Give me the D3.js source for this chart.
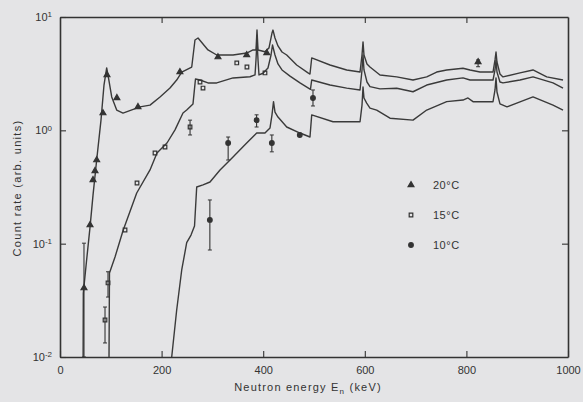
<!DOCTYPE html>
<html><head><meta charset="utf-8">
<script src="https://cdn.jsdelivr.net/npm/d3@7"></script>
<style>body{margin:0;background:#e4e4e6}svg{display:block}</style>
</head><body><svg id="c" width="583" height="402"></svg>
<script>
// ---- data ----
const curve20E = [45.5,45.9,52.2,59.1,65.0,72.2,80.7,86.6,91.9,95.1,101.8,111.6,124,157.5,177.2,196.9,216.5,229.7,239.6,259.3,265.7,271.7,291.3,308.5,340.6,367.5,379.9,385.8,387.8,389.8,403.5,411.4,417.3,419.3,423.2,429.1,437,446.3,465.9,488.2,492.1,495.5,531.5,564.4,590.6,594.5,596.5,598.4,604.3,610.2,629.9,662.8,694.9,721.9,741.5,761.2,793.3,807.1,826.8,852.4,856.3,858.3,860.2,866.1,872,905.5,931.1,958.1,990.2];
const curve20V = [0.01,0.0367,0.0703,0.140,0.268,0.547,1.23,2.51,3.55,2.96,1.97,1.51,1.42,1.61,1.67,1.97,2.36,2.78,3.27,3.62,6.27,6.53,5.12,4.62,4.62,4.81,5.12,5.12,7.67,5.12,4.94,5.34,7.22,7.67,6.53,5.55,4.91,4.62,3.77,3.21,3.14,4.35,3.77,3.41,3.27,4.62,6.03,4.62,3.85,3.62,3.08,2.96,2.78,2.96,3.27,3.41,3.53,3.41,3.27,3.27,4.18,4.91,4.01,3.14,2.96,3.21,3.41,2.96,2.78];

const curve15E = [96.5,97.4,108.3,124,151,177.2,190.9,210.6,226.4,242.1,249.4,261.8,266.7,275.6,291.3,308.5,340.6,374,383.9,385.8,387.8,389.8,391.7,399.6,409.4,415.4,418.3,423.2,429.1,437,452.8,472.4,493,495.5,531.5,564.4,590.6,594.5,596.5,598.4,604.3,610.2,629.9,662.8,694.9,721.9,761.2,793.3,807.1,852.4,856.3,858.3,860.2,866.1,872,905.5,931.1,970.5,990.2];
const curve15V = [0.01,0.0551,0.0762,0.130,0.280,0.447,0.631,0.773,1.01,1.42,1.51,1.71,2.84,2.78,2.62,2.62,2.90,2.97,3.08,4.18,6.27,4.18,3.08,3.19,3.55,4.62,5.66,4.62,3.85,3.41,3.01,2.62,2.30,2.78,2.51,2.36,2.27,3.41,4.62,3.41,2.67,2.43,2.32,2.35,2.19,2.51,2.78,2.90,2.78,2.78,3.41,4.18,3.27,2.67,2.62,2.78,2.96,2.62,2.36];

const curve10E = [219.9,229.7,239.6,249.4,257.9,264.8,269.1,281.5,295.3,315,340.6,367.5,387.2,403.5,413.4,417.3,420.3,423.2,429.1,446.3,472.4,492.1,495.5,537.4,590.6,594.5,596.5,598.4,603.7,610.2,623.4,649.6,694.9,721.9,761.2,793.3,803.1,813,852.4,856.3,858.3,860.2,866.1,879.9,905.5,931.1,970.5,990.2];
const curve10V = [0.01,0.0260,0.0586,0.102,0.119,0.143,0.316,0.330,0.350,0.447,0.582,0.773,0.947,0.947,1.05,1.37,1.79,1.45,1.31,1.07,0.947,0.873,1.37,1.19,1.19,1.67,2.41,1.93,1.74,1.57,1.51,1.28,1.23,1.51,1.79,1.85,1.93,1.79,1.79,2.27,2.90,2.18,1.71,1.61,1.78,1.97,1.67,1.51];

const pts20E  = [47.2,59.1,65.0,68.9,72.2,84.6,92.5,112,153.5,236,311,367.5,407,823];
const pts20V  = [0.0406,0.146,0.365,0.438,0.547,1.42,3.08,1.93,1.61,3.27,4.43,4.62,4.81,4.01];
const pts20Lo = [0.01,null,null,null,null,null,null,null,null,null,null,null,null,3.64];
const pts20Hi = [0.101,null,null,null,null,null,null,null,null,null,null,null,null,4.18];

const pts15E  = [88.6,94.5,128,151.6,187,206.7,256,275.6,281.5,348,368,403.5];
const pts15V  = [0.0212,0.045,0.132,0.343,0.631,0.713,1.07,2.67,2.36,3.93,3.62,3.21];
const pts15Lo = [0.0133,0.0338,null,null,null,null,0.91,null,null,null,null,null];
const pts15Hi = [0.0276,0.0565,null,null,null,null,1.23,null,null,null,null,null];

const pts10E  = [295,331,387,417,472,498];
const pts10V  = [0.162,0.773,1.23,0.773,0.91,1.93];
const pts10Lo = [0.0879,0.547,1.07,0.646,null,1.64];
const pts10Hi = [0.243,0.873,1.37,0.91,null,2.27];

const xTicks = [0,200,400,600,800,1000];
const yTicks = [0.01,0.1,1,10];
const legendLabels = ["20°C","15°C","10°C"];

// ---- drawing ----
const ink = "#333";
const svg = d3.select("#c");
svg.append("rect").attr("width",583).attr("height",402).attr("fill","#e4e4e6");
const x = d3.scaleLinear().domain([0,1000]).range([60,568]);
const y = d3.scaleLog().domain([0.01,10]).range([357,17]);

const font = "Liberation Sans, Arial, sans-serif";

// frame axes
const gB = svg.append("g").attr("transform","translate(0,357)")
  .call(d3.axisBottom(x).tickValues(xTicks).tickSizeInner(-6).tickSizeOuter(0).tickPadding(9).tickFormat(d3.format("d")));
const gT = svg.append("g").attr("transform","translate(0,17)")
  .call(d3.axisTop(x).tickValues([200,400,600,800]).tickSizeInner(-6).tickSizeOuter(0).tickFormat(""));
const gL = svg.append("g").attr("transform","translate(60,0)")
  .call(d3.axisLeft(y).tickValues(yTicks).tickSizeInner(-6).tickSizeOuter(0).tickPadding(8).tickFormat(d=>"10"));
const gR = svg.append("g").attr("transform","translate(568,0)")
  .call(d3.axisRight(y).tickValues([0.1,1]).tickSizeInner(-6).tickSizeOuter(0).tickFormat(""));
[gB,gT,gL,gR].forEach(g=>{
  g.select(".domain").attr("stroke",ink).attr("stroke-width",1.6);
  g.selectAll(".tick line").attr("stroke",ink).attr("stroke-width",1.1);
  g.selectAll("text").attr("fill",ink).attr("font-family",font).attr("font-size",11);
});
gL.selectAll(".tick text").each(function(d){
  const e = Math.round(Math.log10(d));
  d3.select(this).append("tspan").attr("dy","-0.45em").attr("font-size",8)
    .text(e<0 ? "-"+(-e) : String(e));
});

// curves
const line = d3.line().x(d=>x(d[0])).y(d=>y(d[1]));
[[curve20E,curve20V],[curve15E,curve15V],[curve10E,curve10V]].forEach(([E,V])=>{
  svg.append("path").datum(E.map((e,i)=>[e,V[i]]))
    .attr("d",line).attr("fill","none").attr("stroke","#3a3a3a").attr("stroke-width",1.4)
    .attr("stroke-linejoin","round");
});

// markers
const series = [
  {E:pts20E,V:pts20V,Lo:pts20Lo,Hi:pts20Hi,sym:d3.symbolTriangle,size:15,fill:ink},
  {E:pts15E,V:pts15V,Lo:pts15Lo,Hi:pts15Hi,sym:d3.symbolSquare,size:13,fill:"none"},
  {E:pts10E,V:pts10V,Lo:pts10Lo,Hi:pts10Hi,sym:d3.symbolCircle,size:17,fill:ink}
];
series.forEach(s=>{
  const g = svg.append("g");
  s.E.forEach((e,i)=>{
    if(s.Lo[i]!=null){
      g.append("line").attr("x1",x(e)).attr("x2",x(e)).attr("y1",y(s.Lo[i])).attr("y2",y(s.Hi[i]))
        .attr("stroke",ink).attr("stroke-width",1.1);
      [s.Lo[i],s.Hi[i]].forEach(v=>g.append("line").attr("x1",x(e)-2).attr("x2",x(e)+2)
        .attr("y1",y(v)).attr("y2",y(v)).attr("stroke",ink).attr("stroke-width",1));
    }
    g.append("path").attr("d",d3.symbol().type(s.sym).size(s.size)())
      .attr("transform",`translate(${x(e)},${y(s.V[i])})`)
      .attr("fill",s.fill).attr("stroke",ink).attr("stroke-width",1.2);
  });
});

// legend
const leg = svg.append("g");
series.forEach((s,i)=>{
  const cy = 185 + i*30;
  leg.append("path").attr("d",d3.symbol().type(s.sym).size(s.size)())
    .attr("transform",`translate(411,${cy})`).attr("fill",s.fill).attr("stroke",ink).attr("stroke-width",1.2);
  leg.append("text").attr("x",433).attr("y",cy+4).attr("fill",ink)
    .attr("font-family",font).attr("font-size",11).attr("letter-spacing",0.5).text(legendLabels[i]);
});

// axis titles
svg.append("text").attr("transform","translate(21,188) rotate(-90)").attr("text-anchor","middle")
  .attr("fill",ink).attr("font-family",font).attr("font-size",11).attr("letter-spacing",1.3)
  .text("Count rate (arb. units)");
const xt = svg.append("text").attr("x",308).attr("y",391).attr("text-anchor","middle")
  .attr("fill",ink).attr("font-family",font).attr("font-size",11).attr("letter-spacing",1.2);
xt.append("tspan").text("Neutron energy  E");
xt.append("tspan").attr("font-size",8).attr("dy",3).text("n");
xt.append("tspan").attr("dy",-3).text(" (keV)");
</script></body></html>
